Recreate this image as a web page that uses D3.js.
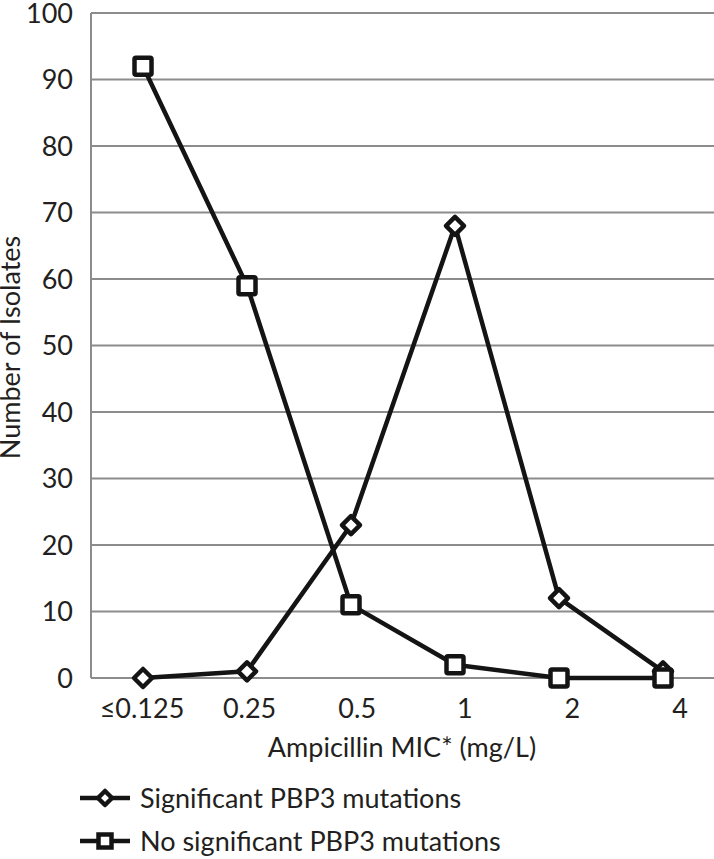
<!DOCTYPE html>
<html>
<head>
<meta charset="utf-8">
<script src="https://cdn.jsdelivr.net/npm/d3@7"></script>
<style>
  html, body { margin: 0; padding: 0; background: #fff; }
  svg { display: block; }
  text { font-family: Lato, "Open Sans", "DejaVu Sans", sans-serif; fill: #231f20; }
</style>
</head>
<body>
<svg id="chart" width="714" height="859"></svg>
<script>
const categories = ["≤0.125", "0.25", "0.5", "1", "2", "4"];
const significant = [0, 1, 23, 68, 12, 1];
const noSignificant = [92, 59, 11, 2, 0, 0];
const yTicks = [0, 10, 20, 30, 40, 50, 60, 70, 80, 90, 100];
const seriesNames = ["Significant PBP3 mutations", "No significant PBP3 mutations"];
const xTitle = "Ampicillin MIC* (mg/L)";
const yTitle = "Number of Isolates";

(function () {
const svg = d3.select("#chart");
const pLeft = 91, pRight = 715, pTop = 13, pBottom = 678;
const fs = 27;

const x = d3.scaleBand().domain(categories).range([pLeft, pRight]);
const xLab = d3.scalePoint().domain(categories).range([142, 680]);
const y = d3.scaleLinear().domain([0, 100]).range([pBottom, pTop]);

svg.append("g").selectAll("line").data(yTicks.filter(d => d > 0)).join("line")
  .attr("x1", pLeft).attr("x2", 714)
  .attr("y1", d => y(d)).attr("y2", d => y(d))
  .attr("stroke", "#8c8c8c").attr("stroke-width", 2);
svg.append("line").attr("x1", pLeft).attr("x2", 714).attr("y1", y(0)).attr("y2", y(0))
  .attr("stroke", "#8c8c8c").attr("stroke-width", 2);
svg.append("line").attr("x1", pLeft).attr("x2", pLeft).attr("y1", y(0)).attr("y2", y(100))
  .attr("stroke", "#8c8c8c").attr("stroke-width", 2);

svg.append("g").selectAll("text").data(yTicks).join("text")
  .attr("x", 73).attr("y", d => y(d)).attr("dy", "0.36em")
  .attr("text-anchor", "end").attr("font-size", fs).text(d => d);

svg.append("g").selectAll("text").data(categories).join("text")
  .attr("x", d => xLab(d)).attr("y", 718)
  .attr("text-anchor", "middle").attr("font-size", fs).text(d => d);

svg.append("text").attr("x", 402).attr("y", 757).attr("text-anchor", "middle")
  .attr("font-size", fs).text(xTitle);
svg.append("text").attr("transform", `translate(20,${(pTop + pBottom) / 2 + 2}) rotate(-90)`)
  .attr("text-anchor", "middle").attr("font-size", fs).text(yTitle);

const cx = d => x(d) + x.bandwidth() / 2;
const line = d3.line().x(d => cx(d.c)).y(d => y(d.v));

const sigData = categories.map((c, i) => ({ c, v: significant[i] }));
const noData = categories.map((c, i) => ({ c, v: noSignificant[i] }));

const diamond = s => `M0,${-s}L${s},0L0,${s}L${-s},0Z`;
const ink = "#141414";

svg.append("path").datum(sigData).attr("d", line)
  .attr("fill", "none").attr("stroke", ink).attr("stroke-width", 4.5).attr("stroke-linejoin", "round");
svg.append("path").datum(noData).attr("d", line)
  .attr("fill", "none").attr("stroke", ink).attr("stroke-width", 4.5).attr("stroke-linejoin", "round");

svg.append("g").selectAll("path").data(sigData).join("path")
  .attr("transform", d => `translate(${cx(d.c)},${y(d.v)})`)
  .attr("d", diamond(9)).attr("fill", "#fff").attr("stroke", ink).attr("stroke-width", 4.5)
  .attr("stroke-linejoin", "round");
svg.append("g").selectAll("rect").data(noData).join("rect")
  .attr("x", d => cx(d.c) - 8.5).attr("y", d => y(d.v) - 8.5)
  .attr("width", 17).attr("height", 17).attr("rx", 1.5)
  .attr("fill", "#fff").attr("stroke", ink).attr("stroke-width", 4.5);

const legY = [798, 841];
const lg = svg.append("g");
legY.forEach((ly, i) => {
  lg.append("line").attr("x1", 80).attr("x2", 130).attr("y1", ly).attr("y2", ly)
    .attr("stroke", ink).attr("stroke-width", 4.5);
  if (i === 0) {
    lg.append("path").attr("transform", `translate(105,${ly})`).attr("d", diamond(7))
      .attr("fill", "#fff").attr("stroke", ink).attr("stroke-width", 4.5).attr("stroke-linejoin", "round");
  } else {
    lg.append("rect").attr("x", 105 - 6.5).attr("y", ly - 6.5).attr("width", 13).attr("height", 13)
      .attr("fill", "#fff").attr("stroke", ink).attr("stroke-width", 4.5);
  }
  lg.append("text").attr("x", 140).attr("y", ly).attr("dy", "0.36em")
    .attr("font-size", fs).text(seriesNames[i]);
});
})();
</script>
</body>
</html>
